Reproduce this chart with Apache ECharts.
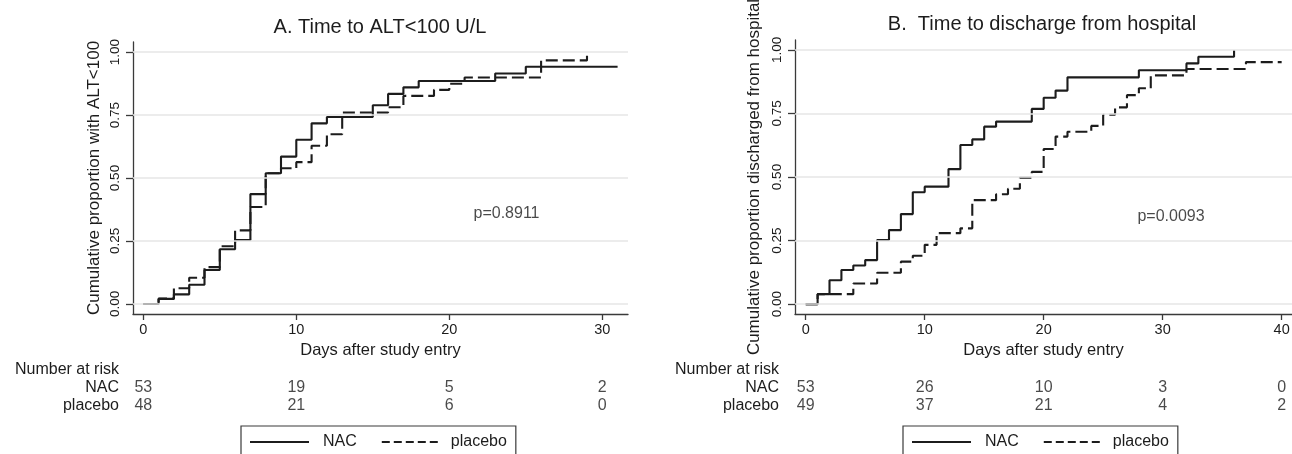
<!DOCTYPE html>
<html>
<head>
<meta charset="utf-8">
<script src="https://cdn.jsdelivr.net/npm/echarts@6/dist/echarts.min.js"></script>
<style>
  html, body { margin: 0; padding: 0; background: #ffffff; }
  #chart { width: 1292px; height: 454px; }
</style>
</head>
<body>
<div id="chart"></div>
<script>
// ---- Kaplan-Meier estimates (cumulative proportion with event) ----
// Panel A: time to ALT < 100 U/L
const nacA_days     = [0, 1, 2, 3, 4, 5, 6, 7, 8, 9, 10, 11, 12, 15, 16, 17, 18, 23, 25, 31];
const nacA_prop     = [0, 0.020, 0.038, 0.076, 0.135, 0.217, 0.254, 0.436, 0.519, 0.585, 0.652, 0.717, 0.742, 0.789, 0.834, 0.860, 0.885, 0.915, 0.942, 0.942];
const placeboA_days = [0, 1, 2, 3, 4, 5, 6, 7, 8, 9, 10, 11, 12, 13, 16, 17, 19, 20, 21, 26, 29];
const placeboA_prop = [0, 0.021, 0.0625, 0.104, 0.146, 0.229, 0.292, 0.385, 0.519, 0.539, 0.563, 0.628, 0.674, 0.760, 0.781, 0.826, 0.850, 0.874, 0.899, 0.967, 1.0];

// Panel B: time to discharge from hospital
const nacB_days     = [0, 1, 2, 3, 4, 5, 6, 7, 8, 9, 10, 12, 13, 14, 15, 16, 19, 20, 21, 22, 28, 32, 33, 36];
const nacB_prop     = [0, 0.039, 0.094, 0.134, 0.152, 0.173, 0.252, 0.291, 0.354, 0.440, 0.462, 0.531, 0.626, 0.648, 0.698, 0.718, 0.768, 0.812, 0.840, 0.892, 0.920, 0.947, 0.973, 1.0];
const placeboB_days = [0, 1, 4, 6, 8, 9, 10, 11, 13, 14, 16, 17, 18, 19, 20, 21, 22, 24, 25, 26, 27, 28, 29, 32, 37, 40];
const placeboB_prop = [0, 0.039, 0.081, 0.123, 0.167, 0.190, 0.233, 0.279, 0.298, 0.409, 0.432, 0.454, 0.497, 0.520, 0.610, 0.659, 0.678, 0.701, 0.745, 0.774, 0.822, 0.849, 0.900, 0.925, 0.952, 0.952];

// ---- Axis ticks ----
const ticksA = [0, 10, 20, 30];
const ticksB = [0, 10, 20, 30, 40];
const ticksY = [0, 0.25, 0.5, 0.75, 1];

// ---- Number at risk ----
const riskRows  = ['Number at risk', 'NAC', 'placebo'];
const riskA_nac     = [53, 19, 5, 2];
const riskA_placebo = [48, 21, 6, 0];
const riskB_nac     = [53, 26, 10, 3, 0];
const riskB_placebo = [49, 37, 21, 4, 2];

// ---- Text ----
const titleA = 'A. Time to ALT<100 U/L';
const titleB = 'B.  Time to discharge from hospital';
const yNameA = 'Cumulative proportion with ALT<100';
const yNameB = 'Cumulative proportion discharged from hospital';
const xName  = 'Days after study entry';
const pA = { day: 23.74, prop: 0.36, text: 'p=0.8911' };
const pB = { day: 30.7, prop: 0.344, text: 'p=0.0093' };

const FONT = "'Liberation Sans', Arial, Helvetica, sans-serif";
const INK = '#1c1c1c';
const AXIS = '#3a3a3a';
const GRIDC = '#e6e6e6';

const zip = (xs, ys) => xs.map((x, i) => [x, ys[i]]);

function plotX(grid, min, max, ticks) {
  return {
    gridIndex: grid, type: 'value', min: min, max: max,
    axisLine: { show: true, onZero: false, lineStyle: { color: AXIS, width: 1.3 } },
    axisTick: { show: true, length: 6, customValues: ticks, lineStyle: { color: AXIS, width: 1.3 } },
    axisLabel: { customValues: ticks, fontSize: 14.5, margin: 8, color: INK, fontFamily: FONT },
    splitLine: { show: false },
    name: xName, nameLocation: 'middle', nameGap: 27,
    nameTextStyle: { fontSize: 16.5, color: INK, fontFamily: FONT }
  };
}
function plotY(grid, min, max, name, gap) {
  return {
    gridIndex: grid, type: 'value', min: min, max: max,
    axisLine: { show: true, onZero: false, lineStyle: { color: AXIS, width: 1.3 } },
    axisTick: { show: true, length: 7, customValues: ticksY, lineStyle: { color: AXIS, width: 1.3 } },
    axisLabel: { customValues: ticksY, rotate: 90, fontSize: 13.5, margin: 11, color: INK, fontFamily: FONT,
                 formatter: v => v.toFixed(2) },
    splitLine: { show: false },
    name: name, nameLocation: 'middle', nameGap: gap, nameRotate: 90,
    nameTextStyle: { fontSize: 17, color: INK, fontFamily: FONT }
  };
}
function riskX(grid, min, max) {
  return { gridIndex: grid, type: 'value', min: min, max: max, show: false };
}
function riskY(grid, margin) {
  return {
    gridIndex: grid, type: 'category', data: riskRows, inverse: true,
    axisLine: { show: false }, axisTick: { show: false }, splitLine: { show: false },
    axisLabel: { interval: 0, hideOverlap: false, fontSize: 16, color: INK, fontFamily: FONT, margin: margin }
  };
}
function kmLine(name, xi, days, prop, dashed) {
  return {
    name: name, type: 'line', step: 'end', xAxisIndex: xi, yAxisIndex: xi,
    data: zip(days, prop), symbol: 'none', showSymbol: false, z: 3,
    lineStyle: { color: INK, width: 2.1, type: dashed ? [12, 5] : 'solid' },
    itemStyle: { color: INK }, animation: false
  };
}
function gridLines(xi) {
  return {
    type: 'line', xAxisIndex: xi, yAxisIndex: xi, data: [], z: 1, silent: true,
    markLine: {
      silent: true, symbol: ['none', 'none'], label: { show: false }, animation: false,
      lineStyle: { color: GRIDC, width: 1.6, type: 'solid' },
      data: ticksY.map(v => ({ yAxis: v }))
    }
  };
}
function riskSeries(xi, ticks, nac, placebo) {
  const data = [];
  ticks.forEach((d, i) => { data.push([d, 1, nac[i]]); data.push([d, 2, placebo[i]]); });
  return {
    type: 'scatter', xAxisIndex: xi, yAxisIndex: xi, data: data, symbolSize: 1, silent: true,
    itemStyle: { color: 'rgba(0,0,0,0)' }, animation: false,
    label: { show: true, position: 'inside', formatter: p => String(p.value[2]),
             fontSize: 16, color: INK, fontFamily: FONT }
  };
}
function pLabel(xi, p) {
  return {
    type: 'scatter', xAxisIndex: xi, yAxisIndex: xi, data: [[p.day, p.prop]], symbolSize: 1, silent: true,
    itemStyle: { color: 'rgba(0,0,0,0)' }, animation: false,
    label: { show: true, position: 'inside', formatter: p.text, fontSize: 16, color: INK, fontFamily: FONT }
  };
}
function legendBox(left) {
  const hidden = { opacity: 0, color: 'rgba(0,0,0,0)', borderWidth: 0 };
  return {
    left: left, top: 426, orient: 'horizontal', selectedMode: false,
    borderColor: AXIS, borderWidth: 1.2, borderRadius: 0, padding: [8, 9, 12, 8],
    itemWidth: 59, itemHeight: 14, itemGap: 24,
    textStyle: { fontSize: 16, color: INK, fontFamily: FONT },
    data: [
      { name: 'NAC', itemStyle: hidden, lineStyle: { color: INK, width: 2, type: 'solid', opacity: 1 },
        textStyle: { padding: [0, 0, 0, 9] } },
      { name: 'placebo', itemStyle: hidden, lineStyle: { color: INK, width: 2, type: [8, 4], opacity: 1 },
        textStyle: { padding: [0, 0, 0, 5] } }
    ]
  };
}

const chart = echarts.init(document.getElementById('chart'), null, { renderer: 'canvas' });
chart.setOption({
  backgroundColor: '#ffffff',
  animation: false,
  textStyle: { fontFamily: FONT },
  grid: [
    { left: 133, right: 664, top: 42, bottom: 140, outerBoundsMode: 'none' },
    { left: 795, right: 0, top: 40, bottom: 140, outerBoundsMode: 'none' },
    { left: 133, right: 664, top: 361, height: 54, outerBoundsMode: 'none' },
    { left: 795, right: 0, top: 361, height: 54, outerBoundsMode: 'none' }
  ],
  xAxis: [
    plotX(0, -0.673, 31.68, ticksA),
    plotX(1, -0.9, 40.87, ticksB),
    riskX(2, -0.673, 31.68),
    riskX(3, -0.9, 40.87)
  ],
  yAxis: [
    plotY(0, -0.04, 1.04, yNameA, 30),
    plotY(1, -0.039, 1.039, yNameB, 32),
    riskY(2, 14),
    riskY(3, 16)
  ],
  legend: [legendBox(241), legendBox(903)],
  graphic: [
    { type: 'text', x: 380, y: 27, style: { text: titleA, fill: INK, font: '20px ' + FONT, align: 'center', verticalAlign: 'middle' } },
    { type: 'text', x: 1042, y: 24, style: { text: titleB, fill: INK, font: '20px ' + FONT, align: 'center', verticalAlign: 'middle' } }
  ],
  series: [
    gridLines(0),
    gridLines(1),
    kmLine('NAC', 0, nacA_days, nacA_prop, false),
    kmLine('placebo', 0, placeboA_days, placeboA_prop, true),
    kmLine('NAC', 1, nacB_days, nacB_prop, false),
    kmLine('placebo', 1, placeboB_days, placeboB_prop, true),
    pLabel(0, pA),
    pLabel(1, pB),
    riskSeries(2, ticksA, riskA_nac, riskA_placebo),
    riskSeries(3, ticksB, riskB_nac, riskB_placebo)
  ]
});
</script>
</body>
</html>
